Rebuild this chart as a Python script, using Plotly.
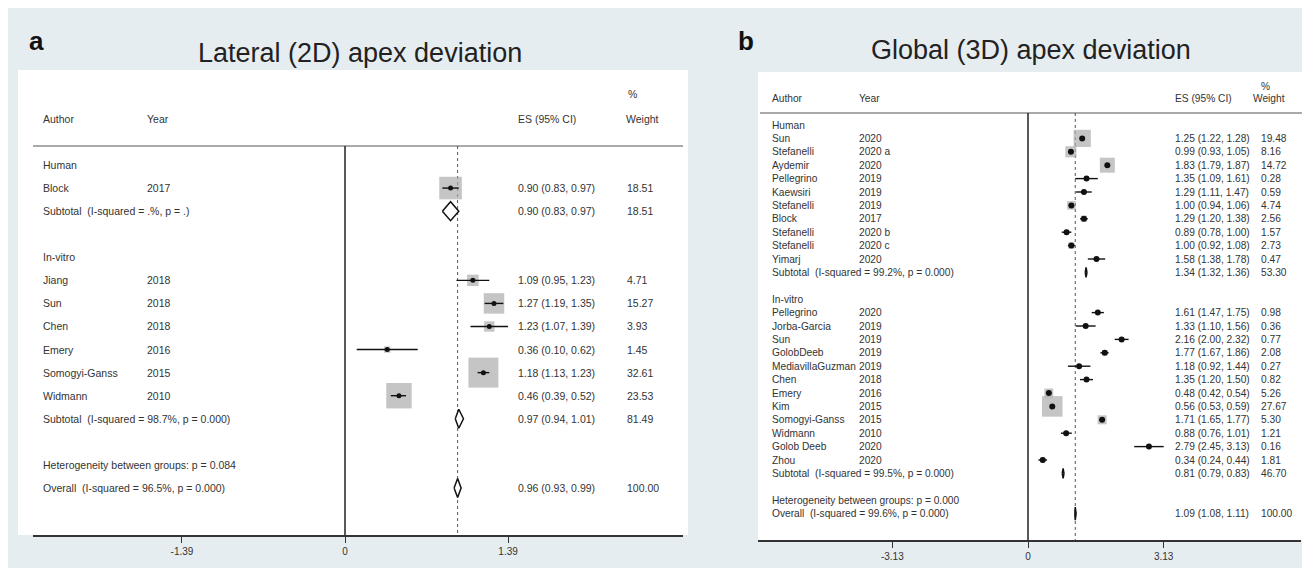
import plotly.graph_objects as go

# ---------------- Panel a : Lateral (2D) apex deviation ----------------
a_title = "Lateral (2D) apex deviation"
a_letter = "a"
a_group = ["Human", "In-vitro", "In-vitro", "In-vitro", "In-vitro", "In-vitro", "In-vitro"]
a_author = ["Block", "Jiang", "Sun", "Chen", "Emery", "Somogyi-Ganss", "Widmann"]
a_year = ["2017", "2018", "2018", "2018", "2016", "2015", "2010"]
a_es = [0.90, 1.09, 1.27, 1.23, 0.36, 1.18, 0.46]
a_lo = [0.83, 0.95, 1.19, 1.07, 0.10, 1.13, 0.39]
a_hi = [0.97, 1.23, 1.35, 1.39, 0.62, 1.23, 0.52]
a_weight = [18.51, 4.71, 15.27, 3.93, 1.45, 32.61, 23.53]
a_sub_label = ["Subtotal  (I-squared = .%, p = .)", "Subtotal  (I-squared = 98.7%, p = 0.000)"]
a_sub_es = [0.90, 0.97]
a_sub_lo = [0.83, 0.94]
a_sub_hi = [0.97, 1.01]
a_sub_weight = [18.51, 81.49]
a_het_label = "Heterogeneity between groups: p = 0.084"
a_overall_label = "Overall  (I-squared = 96.5%, p = 0.000)"
a_overall_es, a_overall_lo, a_overall_hi, a_overall_weight = 0.96, 0.93, 0.99, 100.00
a_tickvals = [-1.39, 0, 1.39]
a_ticktext = ["-1.39", "0", "1.39"]

# ---------------- Panel b : Global (3D) apex deviation ----------------
b_title = "Global (3D) apex deviation"
b_letter = "b"
b_group = ["Human"] * 10 + ["In-vitro"] * 12
b_author = ["Sun", "Stefanelli", "Aydemir", "Pellegrino", "Kaewsiri", "Stefanelli", "Block",
            "Stefanelli", "Stefanelli", "Yimarj",
            "Pellegrino", "Jorba-Garcia", "Sun", "GolobDeeb", "MediavillaGuzman", "Chen",
            "Emery", "Kim", "Somogyi-Ganss", "Widmann", "Golob Deeb", "Zhou"]
b_year = ["2020", "2020 a", "2020", "2019", "2019", "2019", "2017", "2020 b", "2020 c", "2020",
          "2020", "2019", "2019", "2019", "2019", "2018", "2016", "2015", "2015", "2010", "2020", "2020"]
b_es = [1.25, 0.99, 1.83, 1.35, 1.29, 1.00, 1.29, 0.89, 1.00, 1.58,
        1.61, 1.33, 2.16, 1.77, 1.18, 1.35, 0.48, 0.56, 1.71, 0.88, 2.79, 0.34]
b_lo = [1.22, 0.93, 1.79, 1.09, 1.11, 0.94, 1.20, 0.78, 0.92, 1.38,
        1.47, 1.10, 2.00, 1.67, 0.92, 1.20, 0.42, 0.53, 1.65, 0.76, 2.45, 0.24]
b_hi = [1.28, 1.05, 1.87, 1.61, 1.47, 1.06, 1.38, 1.00, 1.08, 1.78,
        1.75, 1.56, 2.32, 1.86, 1.44, 1.50, 0.54, 0.59, 1.77, 1.01, 3.13, 0.44]
b_weight = [19.48, 8.16, 14.72, 0.28, 0.59, 4.74, 2.56, 1.57, 2.73, 0.47,
            0.98, 0.36, 0.77, 2.08, 0.27, 0.82, 5.26, 27.67, 5.30, 1.21, 0.16, 1.81]
b_sub_label = ["Subtotal  (I-squared = 99.2%, p = 0.000)", "Subtotal  (I-squared = 99.5%, p = 0.000)"]
b_sub_es = [1.34, 0.81]
b_sub_lo = [1.32, 0.79]
b_sub_hi = [1.36, 0.83]
b_sub_weight = [53.30, 46.70]
b_het_label = "Heterogeneity between groups: p = 0.000"
b_overall_label = "Overall  (I-squared = 99.6%, p = 0.000)"
b_overall_es, b_overall_lo, b_overall_hi, b_overall_weight = 1.09, 1.08, 1.11, 100.00
b_tickvals = [-3.13, 0, 3.13]
b_ticktext = ["-3.13", "0", "3.13"]

# ---------------- geometry / style ----------------
W, H = 1310, 568
FONT = "Liberation Sans, Arial, Helvetica, sans-serif"
TXT = "#333333"
BG = "#e6edf1"

geo_a = dict(xa="x", ya="y", zero=337, ppu=117.3, span=(25, 675), bottom=527, top=60,
             row0=157, step=23.07, author_x=33, year_x=137, es_x=508, w_x=617, pct_x=618,
             wh_x=616, head_px=111, pct_px=86, hline_px=138, hline_span=(25, 675),
             box_k=5.25, dot=5, dia_sub=9.5, dia_all=9.5, fs=10.5,
             panel=(10, 62, 680, 527), title_xy=(352, 45), letter_xy=(28, 33))
geo_b = dict(xa="x2", ya="y2", zero=1020, ppu=43.35, span=(750, 1293), bottom=532, top=65,
             row0=117, step=13.4, author_x=762, year_x=849, es_x=1165, w_x=1251, pct_x=1251,
             wh_x=1243, head_px=90, pct_px=78, hline_px=105, hline_span=(752, 1298),
             box_k=3.9, dot=6, dia_sub=5.0, dia_all=6.5, fs=10.2,
             panel=(750, 64, 1300, 532), title_xy=(1023, 42), letter_xy=(738, 33))

fig = go.Figure()
annotations = []
shapes = []


def px2paper_x(p):
    return p / W


def px2paper_y(p):
    return 1 - p / H


def add_panel(g, title, letter, group, author, year, es, lo, hi, weight,
              sub_label, sub_es, sub_lo, sub_hi, sub_weight,
              het_label, ov_label, ov_es, ov_lo, ov_hi, ov_w, tickvals, ticktext):
    xa, ya = g["xa"], g["ya"]
    yref = ya
    row_of = lambda p: (p - g["row0"]) / g["step"]

    def text(x_px, row, s, color=TXT):
        annotations.append(dict(x=px2paper_x(x_px), xref="paper", y=row, yref=yref, text=s,
                                showarrow=False, xanchor="left", yanchor="middle",
                                font=dict(family=FONT, size=g["fs"], color=color)))

    # row layout
    groups = []
    for gname in group:
        if gname not in groups:
            groups.append(gname)
    r = 0
    study_rows = [None] * len(author)
    sub_rows = []
    for gi, gname in enumerate(groups):
        text(g["author_x"], r, gname)
        r += 1
        for i, gg in enumerate(group):
            if gg == gname:
                study_rows[i] = r
                r += 1
        sub_rows.append(r)
        r += 1
        r += 1
    het_row = r
    ov_row = r + 1

    # study text
    for i in range(len(author)):
        text(g["author_x"], study_rows[i], author[i])
        text(g["year_x"], study_rows[i], year[i])
        text(g["es_x"], study_rows[i], f"{es[i]:.2f} ({lo[i]:.2f}, {hi[i]:.2f})")
        text(g["w_x"], study_rows[i], f"{weight[i]:.2f}")
    for k in range(len(sub_label)):
        text(g["author_x"], sub_rows[k], sub_label[k])
        text(g["es_x"], sub_rows[k], f"{sub_es[k]:.2f} ({sub_lo[k]:.2f}, {sub_hi[k]:.2f})")
        text(g["w_x"], sub_rows[k], f"{sub_weight[k]:.2f}")
    text(g["author_x"], het_row, het_label)
    text(g["author_x"], ov_row, ov_label)
    text(g["es_x"], ov_row, f"{ov_es:.2f} ({ov_lo:.2f}, {ov_hi:.2f})")
    text(g["w_x"], ov_row, f"{ov_w:.2f}")

    # header
    hr = row_of(g["head_px"])
    text(g["author_x"], hr, "Author")
    text(g["year_x"], hr, "Year")
    text(g["es_x"], hr, "ES (95% CI)")
    text(g["wh_x"], hr, "Weight")
    text(g["pct_x"], row_of(g["pct_px"]), "%")

    hline_row = row_of(g["hline_px"])
    bottom_row = row_of(g["bottom"])
    top_row = row_of(g["top"])

    # panel white background
    x0, y0, x1, y1 = g["panel"]
    shapes.append(dict(type="rect", xref="paper", yref="paper", x0=px2paper_x(x0), x1=px2paper_x(x1),
                       y0=px2paper_y(y1), y1=px2paper_y(y0), fillcolor="#ffffff",
                       line=dict(width=0), layer="below"))
    # header rule
    shapes.append(dict(type="line", xref="paper", yref=yref,
                       x0=px2paper_x(g["hline_span"][0]), x1=px2paper_x(g["hline_span"][1]),
                       y0=hline_row, y1=hline_row, line=dict(color="#555555", width=1)))
    # null line at 0
    shapes.append(dict(type="line", xref=xa, yref=yref, x0=0, x1=0, y0=hline_row, y1=bottom_row,
                       line=dict(color="#222222", width=1.5)))

    # overall dashed line
    fig.add_trace(go.Scatter(x=[ov_es, ov_es], y=[hline_row, bottom_row], xaxis=xa, yaxis=ya,
                             mode="lines", line=dict(color="#555555", width=1, dash="3px,3px"),
                             hoverinfo="skip", showlegend=False))
    # weight boxes
    fig.add_trace(go.Scatter(x=es, y=study_rows, xaxis=xa, yaxis=ya, mode="markers",
                             marker=dict(symbol="square", color="#acacac",
                                         size=[g["box_k"] * w ** 0.5 for w in weight],
                                         line=dict(width=0)),
                             hoverinfo="skip", showlegend=False))
    # CI lines
    cx, cy = [], []
    for i in range(len(es)):
        cx += [lo[i], hi[i], None]
        cy += [study_rows[i], study_rows[i], None]
    fig.add_trace(go.Scatter(x=cx, y=cy, xaxis=xa, yaxis=ya, mode="lines",
                             line=dict(color="#111111", width=1.4), hoverinfo="skip", showlegend=False))
    # point estimates
    fig.add_trace(go.Scatter(x=es, y=study_rows, xaxis=xa, yaxis=ya, mode="markers",
                             marker=dict(symbol="circle", color="#111111", size=g["dot"]),
                             hoverinfo="skip", showlegend=False))
    # diamonds
    dx, dy = [], []
    hs = g["dia_sub"] / g["step"]
    ha = g["dia_all"] / g["step"]
    for k in range(len(sub_es)):
        rr = sub_rows[k]
        dx += [sub_lo[k], sub_es[k], sub_hi[k], sub_es[k], sub_lo[k], None]
        dy += [rr, rr - hs, rr, rr + hs, rr, None]
    dx += [ov_lo, ov_es, ov_hi, ov_es, ov_lo]
    dy += [ov_row, ov_row - ha, ov_row, ov_row + ha, ov_row]
    fig.add_trace(go.Scatter(x=dx, y=dy, xaxis=xa, yaxis=ya, mode="lines", fill="toself",
                             fillcolor="#ffffff", line=dict(color="#111111", width=1.5),
                             hoverinfo="skip", showlegend=False))

    # axes
    xr = [(g["span"][0] - g["zero"]) / g["ppu"], (g["span"][1] - g["zero"]) / g["ppu"]]
    axis_x = dict(domain=[px2paper_x(g["span"][0]), px2paper_x(g["span"][1])], range=xr,
                  anchor=ya, showline=True, linecolor="#333333", linewidth=1.5, ticks="outside",
                  ticklen=6, tickwidth=1, tickcolor="#333333", tickvals=tickvals, ticktext=ticktext,
                  tickfont=dict(family=FONT, size=10, color=TXT), showgrid=False, zeroline=False,
                  fixedrange=True)
    axis_y = dict(domain=[px2paper_y(g["bottom"]), px2paper_y(g["top"])], range=[bottom_row, top_row],
                  anchor=xa, visible=False, showgrid=False, zeroline=False, fixedrange=True)

    # title and letter
    annotations.append(dict(x=px2paper_x(g["title_xy"][0]), y=px2paper_y(g["title_xy"][1]),
                            xref="paper", yref="paper", text=title, showarrow=False,
                            xanchor="center", yanchor="middle",
                            font=dict(family=FONT, size=27, color="#222222")))
    annotations.append(dict(x=px2paper_x(g["letter_xy"][0]), y=px2paper_y(g["letter_xy"][1]),
                            xref="paper", yref="paper", text=f"<b>{letter}</b>", showarrow=False,
                            xanchor="center", yanchor="middle",
                            font=dict(family=FONT, size=26, color="#111111")))
    return axis_x, axis_y


ax_a, ay_a = add_panel(geo_a, a_title, a_letter, a_group, a_author, a_year, a_es, a_lo, a_hi, a_weight,
                       a_sub_label, a_sub_es, a_sub_lo, a_sub_hi, a_sub_weight,
                       a_het_label, a_overall_label, a_overall_es, a_overall_lo, a_overall_hi,
                       a_overall_weight, a_tickvals, a_ticktext)
ax_b, ay_b = add_panel(geo_b, b_title, b_letter, b_group, b_author, b_year, b_es, b_lo, b_hi, b_weight,
                       b_sub_label, b_sub_es, b_sub_lo, b_sub_hi, b_sub_weight,
                       b_het_label, b_overall_label, b_overall_es, b_overall_lo, b_overall_hi,
                       b_overall_weight, b_tickvals, b_ticktext)

fig.update_layout(
    width=W, height=H, autosize=False,
    margin=dict(l=0, r=0, t=0, b=0),
    paper_bgcolor=BG, plot_bgcolor="rgba(0,0,0,0)",
    xaxis=ax_a, yaxis=ay_a, xaxis2=ax_b, yaxis2=ay_b,
    annotations=annotations, shapes=shapes,
    showlegend=False, hovermode=False,
    font=dict(family=FONT, color=TXT),
)

fig.write_html("out.html", config={"displayModeBar": False})
